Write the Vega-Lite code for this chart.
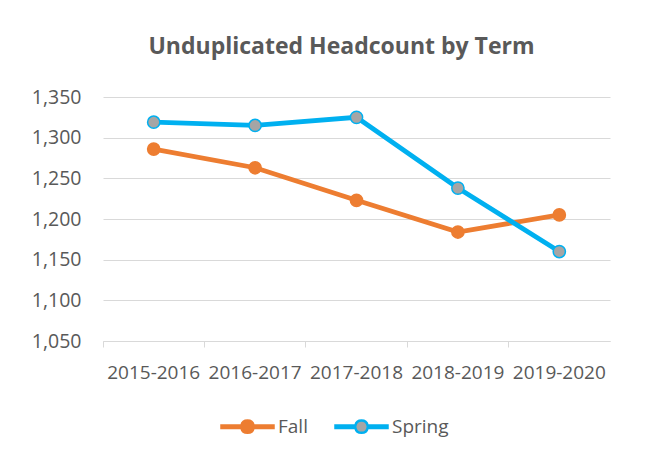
{
  "$schema": "https://vega.github.io/schema/vega-lite/v6.json",
  "width": 507,
  "height": 244,
  "autosize": {"type": "none"},
  "padding": {"left": 103, "top": 97, "right": 58, "bottom": 121},
  "background": "white",
  "title": {
    "text": "Unduplicated Headcount by Term",
    "font": "Open Sans",
    "fontSize": 23,
    "fontWeight": "bold",
    "color": "#595959",
    "anchor": "middle",
    "dx": -15,
    "offset": 28
  },
  "data": {
    "values": [
      {"year": "2015-2016", "term": "Fall", "count": 1286},
      {"year": "2016-2017", "term": "Fall", "count": 1263},
      {"year": "2017-2018", "term": "Fall", "count": 1223},
      {"year": "2018-2019", "term": "Fall", "count": 1184},
      {"year": "2019-2020", "term": "Fall", "count": 1205},
      {"year": "2015-2016", "term": "Spring", "count": 1319},
      {"year": "2016-2017", "term": "Spring", "count": 1315},
      {"year": "2017-2018", "term": "Spring", "count": 1325},
      {"year": "2018-2019", "term": "Spring", "count": 1238},
      {"year": "2019-2020", "term": "Spring", "count": 1160}
    ]
  },
  "encoding": {
    "x": {
      "field": "year",
      "type": "nominal",
      "sort": null,
      "scale": {"type": "band", "paddingInner": 0, "paddingOuter": 0},
      "axis": {
        "title": null,
        "labelAngle": 0,
        "labelFont": "Open Sans",
        "labelFontSize": 19,
        "labelColor": "#595959",
        "labelPadding": 16,
        "bandPosition": 0,
        "domainColor": "#D9D9D9",
        "domainWidth": 1,
        "tickColor": "#D9D9D9",
        "tickSize": 6,
        "ticks": true,
        "grid": false
      }
    },
    "y": {
      "field": "count",
      "type": "quantitative",
      "scale": {"domain": [1050, 1350], "nice": false, "zero": false},
      "axis": {
        "title": null,
        "values": [1050, 1100, 1150, 1200, 1250, 1300, 1350],
        "format": ",d",
        "labelFont": "Open Sans",
        "labelFontSize": 19.5,
        "labelColor": "#595959",
        "labelPadding": 22,
        "domain": false,
        "ticks": false,
        "grid": true,
        "gridColor": "#D9D9D9",
        "gridWidth": 1
      }
    },
    "stroke": {
      "field": "term",
      "type": "nominal",
      "scale": {"domain": ["Fall", "Spring"], "range": ["#ED7D31", "#00B0F0"]},
      "legend": {
        "title": null,
        "orient": "none",
        "legendX": 117,
        "legendY": 302,
        "direction": "horizontal",
        "labelFont": "Open Sans",
        "labelFontSize": 19,
        "labelColor": "#595959",
        "labelOffset": 3,
        "columnPadding": 22,
        "symbolType": "M-1,-0.048 L-0.235,-0.048 A0.24,0.24 0 0,1 0.235,-0.048 L1,-0.048 L1,0.048 L0.235,0.048 A0.24,0.24 0 0,1 -0.235,0.048 L-1,0.048 Z",
        "symbolSize": 2704,
        "symbolStrokeWidth": 2.5
      }
    }
  },
  "layer": [
    {
      "mark": {"type": "line", "strokeWidth": 4.8},
      "encoding": {}
    },
    {
      "mark": {"type": "point", "filled": true, "size": 150, "strokeWidth": 1.5, "opacity": 1},
      "encoding": {
        "fill": {
          "field": "term",
          "type": "nominal",
          "scale": {"domain": ["Fall", "Spring"], "range": ["#ED7D31", "#A5A5A5"]},
          "legend": {
            "title": null,
            "orient": "none",
            "legendX": 117,
            "legendY": 302,
            "direction": "horizontal",
            "labelFont": "Open Sans",
            "labelFontSize": 19,
            "labelColor": "#595959",
            "labelOffset": 3,
            "columnPadding": 22,
            "symbolType": "M-1,-0.048 L-0.235,-0.048 A0.24,0.24 0 0,1 0.235,-0.048 L1,-0.048 L1,0.048 L0.235,0.048 A0.24,0.24 0 0,1 -0.235,0.048 L-1,0.048 Z",
            "symbolSize": 2704,
            "symbolStrokeWidth": 2.5
          }
        }
      }
    }
  ],
  "config": {
    "view": {"stroke": null}
  }
}
